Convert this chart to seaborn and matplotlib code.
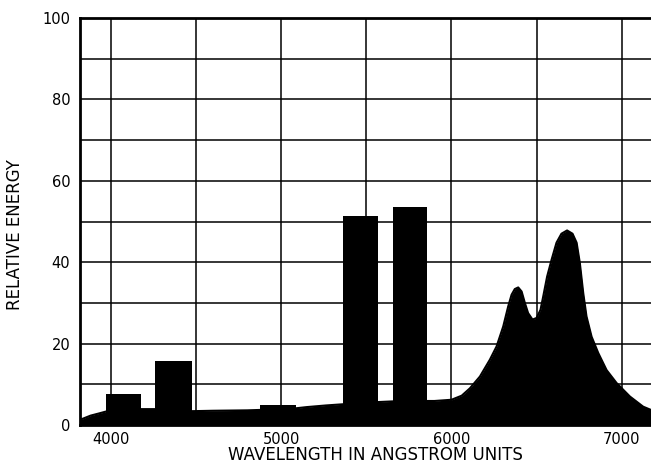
import numpy as np
import pandas as pd
import matplotlib
matplotlib.use("Agg")
import matplotlib.pyplot as plt
import seaborn as sns

# Continuous background (wavelength in Angstrom, relative energy)
cont_wl = [3820, 3850, 3880, 3935, 3970, 4100, 4176, 4258, 4300, 4480, 4600,
           4800, 4875, 5085, 5150, 5262, 5330, 5500, 5654, 5857, 5900, 6000,
           6060, 6108, 6167, 6225, 6265, 6304, 6333, 6353, 6372, 6392, 6412,
           6431, 6450, 6476, 6500, 6523, 6539, 6562, 6588, 6617, 6646, 6679,
           6711, 6735, 6754, 6774, 6793, 6823, 6862, 6911, 6970, 7048, 7126,
           7172]
cont_val = [1.3, 1.8, 2.3, 2.9, 3.3, 3.7, 3.9, 3.9, 3.6, 3.4, 3.5,
            3.6, 3.7, 4.1, 4.4, 4.8, 5.0, 5.5, 5.8, 5.9, 5.9, 6.2,
            7.2, 9.0, 11.9, 16.0, 19.3, 24.2, 29.1, 32.0, 33.4, 33.8, 32.8,
            30.0, 27.5, 25.9, 26.3, 28.3, 31.6, 36.5, 40.6, 44.8, 47.0, 47.8,
            47.0, 44.8, 39.8, 32.4, 26.7, 21.7, 17.7, 13.5, 10.3, 7.0, 4.5,
            3.7]

# Mercury line bands (start wavelength, end wavelength, energy)
band_start = [3970, 4258, 4875, 5360, 5654]
band_end = [4176, 4474, 5085, 5570, 5857]
band_energy = [7.6, 15.8, 4.9, 51.3, 53.6]

x_ticks = [4000, 5000, 6000, 7000]
y_ticks = [0, 20, 40, 60, 80, 100]

sns.set_theme(style="white")
plt.rcParams["font.family"] = ["DejaVu Sans"]

fig = plt.figure(figsize=(6.51, 4.65), dpi=100)
ax = fig.add_axes([80 / 651, 40 / 465, 571 / 651, 407 / 465])

df = pd.DataFrame({"wl": cont_wl, "val": cont_val})
ax.fill_between(df["wl"], 0, df["val"], color="black", lw=0, zorder=3)
sns.lineplot(data=df, x="wl", y="val", ax=ax, color="black", lw=1.5, zorder=3)

widths = [e - s for s, e in zip(band_start, band_end)]
ax.bar(band_start, band_energy, width=widths, align="edge", color="black",
       lw=0, zorder=3)

ax.set_xlim(3818, 7172)
ax.set_ylim(0, 100)
ax.set_xticks(x_ticks)
ax.set_xticks([4500, 5500, 6500], minor=True)
ax.set_yticks(y_ticks)
ax.set_yticks([10, 30, 50, 70, 90], minor=True)
ax.grid(which="both", color="black", lw=1.1, zorder=1)
ax.set_axisbelow(True)
ax.tick_params(which="both", length=0, labelsize=10.5, colors="black", pad=5)
ax.tick_params(axis="y", pad=7)

for side in ["left", "top", "bottom"]:
    ax.spines[side].set_visible(True)
    ax.spines[side].set_color("black")
    ax.spines[side].set_linewidth(2.0)
ax.spines["right"].set_visible(False)

ax.set_xlabel("")
ax.set_ylabel("")
fig.text(375 / 651, 1 - 455 / 465, "WAVELENGTH IN ANGSTROM UNITS",
         fontsize=12, color="black", ha="center", va="center")
fig.text(15 / 651, 1 - 235 / 465, "RELATIVE ENERGY", fontsize=12,
         color="black", ha="center", va="center", rotation=90)

fig.savefig("out.png", dpi=100, facecolor="white")
